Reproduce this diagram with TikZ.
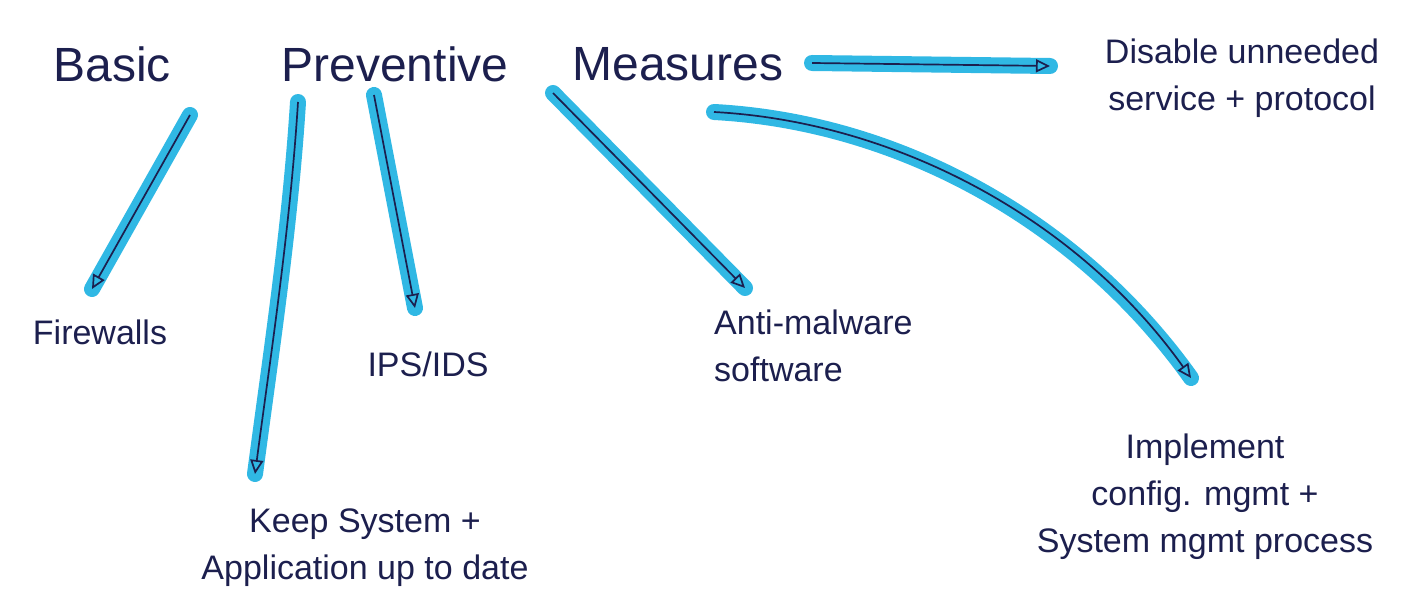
\documentclass[tikz,border=0pt]{standalone}
\usepackage{fontspec}
\setmainfont{Liberation Sans}
\usetikzlibrary{arrows.meta}
\definecolor{ink}{HTML}{1C1F4E}
\definecolor{marker}{HTML}{30B8E4}
\tikzset{
  title/.style={text=ink, font=\fontsize{48}{52}\selectfont, inner sep=0pt},
  label/.style={text=ink, font=\fontsize{34}{47}\selectfont, inner sep=0pt, align=center},
  glow/.style={draw=marker, line width=16pt, line cap=round},
  pen/.style={draw=ink, line width=1.7pt, -{Triangle[open, length=14pt, width=13pt, line width=1.7pt]}},
}
\begin{document}
\begin{tikzpicture}[x=1pt, y=-1pt]
\useasboundingbox (0,0) rectangle (1415,609);
\fill[white] (0,0) rectangle (1415,609);

% heading, one node per word
\node[title] (basic)      at (112,64) {Basic};
\node[title] (preventive) at (395,64) {Preventive};
\node[title] (measures)   at (678,64) {Measures};

% the six measures
\node[label] (disable)  at (1242,78)  {Disable unneeded\\service + protocol};
\node[label] (firewall) at (100,332)  {Firewalls};
\node[label] (ips)      at (428,364)  {IPS/IDS};
\node[label] (keep)     at (365,548)  {Keep System +\\Application up to date};
\node[label, align=left, anchor=west] (anti) at (714,346) {Anti-malware\\software};
\node[label] (impl)     at (1205,497) {Implement\\config. mgmt +\\System mgmt process};

% arrow end points
\coordinate (d0) at (812,63);   \coordinate (d1) at (1050,66);
\coordinate (f0) at (190,115);  \coordinate (f1) at (92,289);
\coordinate (k0) at (298,102);  \coordinate (k1) at (255,474);
\coordinate (i0) at (374,95);   \coordinate (i1) at (415,308);
\coordinate (a0) at (553,93);   \coordinate (a1) at (745,288);
\coordinate (c0) at (714,112);  \coordinate (c1) at (1191,378);

% marker strokes underneath
\draw[glow] (d0) -- (d1);
\draw[glow] (f0) -- (f1);
\draw[glow] (k0) .. controls (290,230) and (270,360) .. (k1);
\draw[glow] (i0) -- (i1);
\draw[glow] (a0) -- (a1);
\draw[glow] (c0) .. controls (900,122) and (1080,222) .. (c1);

% pen strokes with tips
\draw[pen] (d0) -- (d1);
\draw[pen] (f0) -- (f1);
\draw[pen] (k0) .. controls (290,230) and (270,360) .. (k1);
\draw[pen] (i0) -- (i1);
\draw[pen] (a0) -- (a1);
\draw[pen] (c0) .. controls (900,122) and (1080,222) .. (c1);
\end{tikzpicture}
\end{document}
